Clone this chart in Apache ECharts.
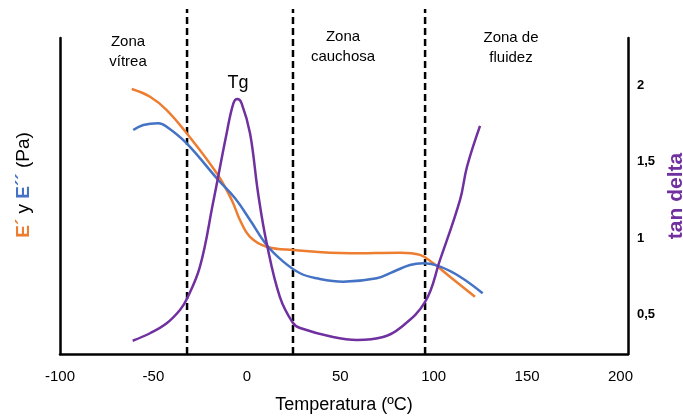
<!DOCTYPE html>
<html>
<head>
<meta charset="utf-8">
<script src="https://cdn.jsdelivr.net/npm/echarts@6/dist/echarts.min.js"></script>
<style>
html, body { margin: 0; padding: 0; background: #fff; }
#chart { width: 683px; height: 419px; }
</style>
</head>
<body>
<div id="chart"></div>
<script>
// temperatura (ºC) y valores
var ePrime = [
    [-61.6, 1.976], [-51.8, 1.925], [-42.9, 1.838], [-32.2, 1.686], [-16.1, 1.424],
    [-8.1, 1.249], [-3.7, 1.118], [1.7, 1.008], [10.6, 0.943], [24.9, 0.921],
    [55.2, 0.900], [82, 0.904], [92.7, 0.889], [99.8, 0.834], [108.7, 0.746], [122.1, 0.615]
];
var eDoublePrime = [
    [-60.8, 1.707], [-55.4, 1.740], [-47.4, 1.751], [-42.9, 1.729], [-32.2, 1.620],
    [-15.3, 1.380], [-6.3, 1.260], [1.7, 1.118], [10.6, 0.954], [19.5, 0.845],
    [28.5, 0.769], [37.4, 0.736], [51.6, 0.714], [69.5, 0.736], [78.4, 0.779],
    [87.3, 0.823], [94.4, 0.834], [103.4, 0.812], [114.1, 0.746], [126.2, 0.638]
];
var tanDelta = [
    [-61.1, 0.327], [-51.8, 0.376], [-42.9, 0.441], [-35.8, 0.528], [-32.2, 0.598],
    [-25.1, 0.812], [-18.1, 1.229], [-10.8, 1.686], [-7.2, 1.882], [-5.1, 1.910],
    [-2.8, 1.882], [1.7, 1.686], [6.0, 1.295], [10.6, 0.967], [17.7, 0.613],
    [24.7, 0.443], [28.5, 0.410], [46.1, 0.351], [59, 0.332], [72.9, 0.351],
    [82, 0.410], [95.4, 0.581], [103.4, 0.856], [114.1, 1.249], [117.8, 1.465], [124.8, 1.734]
];
var zoneLimits = [-32, 24.7, 95.4];
var xTicks = [-100, -50, 0, 50, 100, 150, 200];
var tanTicks = [0.5, 1, 1.5, 2];

var font = 'Liberation Sans, Arial, sans-serif';
var yMin = 0.24, yMax = 2.31, yTop = 2.5;

var series = [
    { name: "E'", data: ePrime, color: '#ED7D31' },
    { name: "E''", data: eDoublePrime, color: '#4472C4' },
    { name: 'tan delta', data: tanDelta, color: '#7030A0' }
].map(function (s) {
    return {
        type: 'line', name: s.name, data: s.data, smooth: 0.4, showSymbol: false,
        lineStyle: { color: s.color, width: 2.5 }, z: 3
    };
});

zoneLimits.forEach(function (x) {
    series.push({
        type: 'line', data: [[x, yMin], [x, yTop]], clip: false, showSymbol: false,
        lineStyle: { color: '#000', width: 2.5, type: [7, 4] }, z: 2
    });
});

var chart = echarts.init(document.getElementById('chart'));
chart.setOption({
    animation: false,
    textStyle: { fontFamily: font },
    grid: { left: 60, right: 55, top: 38, bottom: 65, outerBoundsMode: 'none' },
    xAxis: {
        type: 'value', min: -100, max: 204,
        name: 'Temperatura (ºC)', nameLocation: 'middle', nameGap: 42,
        nameTextStyle: { fontSize: 18, color: '#000' },
        axisLine: { onZero: false, lineStyle: { color: '#000', width: 2.5 } },
        axisTick: { show: false },
        splitLine: { show: false },
        axisLabel: { customValues: xTicks, fontSize: 15, color: '#000', margin: 15 }
    },
    yAxis: [{
        type: 'value', min: yMin, max: yMax, position: 'left',
        name: '{o|E´} y {b|E´´} (Pa)', nameLocation: 'middle', nameGap: 27, nameRotate: 90,
        nameTextStyle: {
            fontSize: 19, color: '#000', padding: [0, 0, 0, 22],
            rich: {
                o: { fontSize: 19, fontWeight: 'bold', color: '#ED7D31' },
                b: { fontSize: 19, fontWeight: 'bold', color: '#4472C4' }
            }
        },
        axisLine: { show: true, onZero: false, lineStyle: { color: '#000', width: 2.5 } },
        axisTick: { show: false },
        axisLabel: { show: false },
        splitLine: { show: false }
    }, {
        type: 'value', min: yMin, max: yMax, position: 'right',
        name: 'tan delta', nameLocation: 'middle', nameGap: 38, nameRotate: 90,
        nameTextStyle: { fontSize: 21, fontWeight: 'bold', color: '#7030A0' },
        axisLine: { show: true, onZero: false, lineStyle: { color: '#000', width: 2.5 } },
        axisTick: { show: false },
        splitLine: { show: false },
        axisLabel: {
            customValues: tanTicks, fontSize: 13, fontWeight: 'bold', color: '#000', margin: 9,
            formatter: function (v) { return String(v).replace('.', ','); }
        }
    }],
    graphic: [
        { type: 'text', x: 128, y: 52, style: { text: 'Zona\nvítrea', font: '15px ' + font, fill: '#000', align: 'center', verticalAlign: 'middle', lineHeight: 20 } },
        { type: 'text', x: 343, y: 47, style: { text: 'Zona\ncauchosa', font: '15px ' + font, fill: '#000', align: 'center', verticalAlign: 'middle', lineHeight: 20 } },
        { type: 'text', x: 511, y: 48, style: { text: 'Zona de\nfluidez', font: '15px ' + font, fill: '#000', align: 'center', verticalAlign: 'middle', lineHeight: 20 } },
        { type: 'text', x: 238, y: 83, style: { text: 'Tg', font: '18px ' + font, fill: '#000', align: 'center', verticalAlign: 'middle' } }
    ],
    series: series
});
</script>
</body>
</html>
